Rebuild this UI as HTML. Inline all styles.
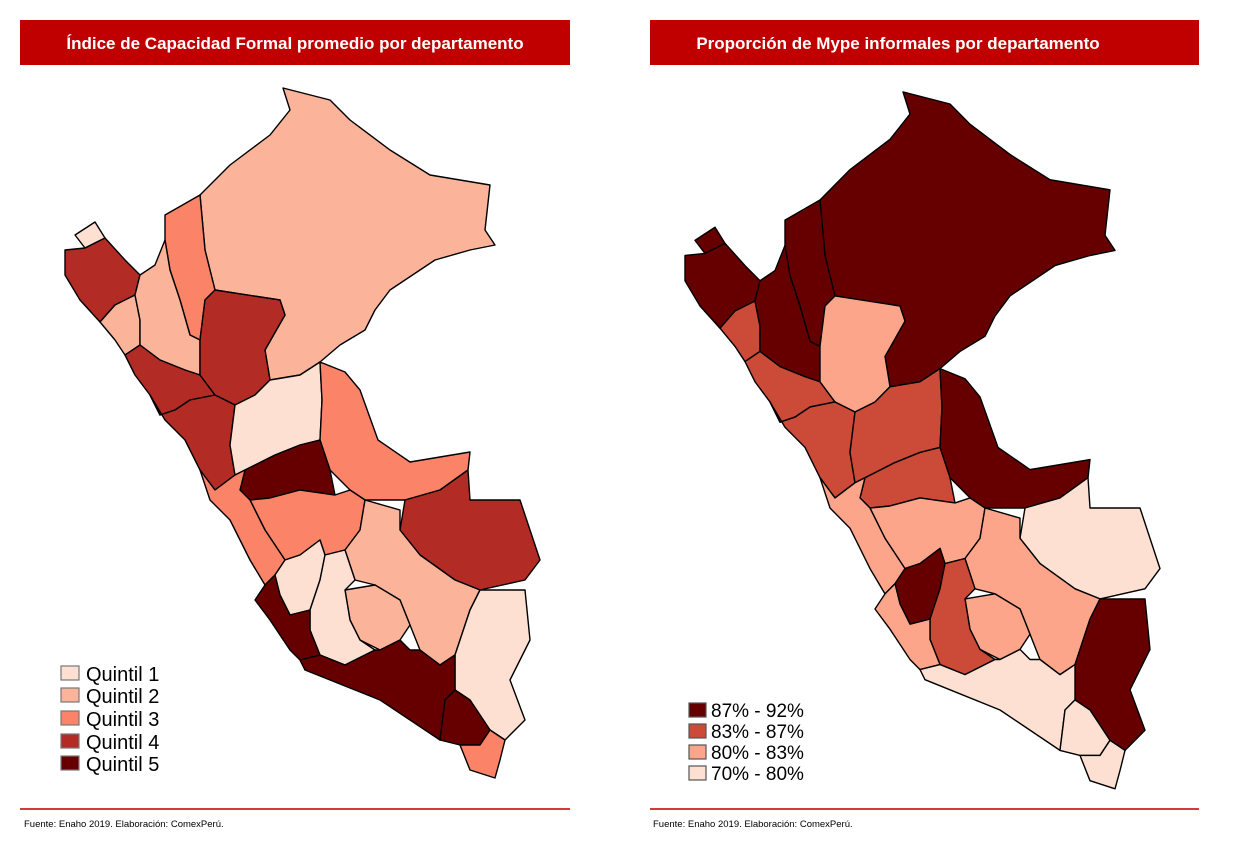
<!DOCTYPE html>
<html><head><meta charset="utf-8"><style>
html,body{margin:0;padding:0;background:#fff;width:1235px;height:844px;overflow:hidden;font-family:"Liberation Sans",Arial,sans-serif}
svg{position:absolute;left:0;top:0}
</style></head><body>
<svg width="1235" height="844" viewBox="0 0 1235 844" xmlns="http://www.w3.org/2000/svg">
<defs>
<g id="peru" stroke="#000" stroke-width="1.4" stroke-linejoin="round">
<polygon id="loreto" points="283,88 330,100 350,120 390,150 430,175 490,185 485,230 495,245 470,250 435,260 390,290 375,310 365,330 340,345 320,362 300,375 270,380 265,350 285,315 280,300 215,290 205,250 200,195 230,165 270,135 290,110"/>
</g>
</defs>

<rect x="20" y="20" width="550" height="45" fill="#c00000"/>
<text x="295" y="49" fill="#fff" font-size="17" font-weight="bold" text-anchor="middle">Índice de Capacidad Formal promedio por departamento</text>
<rect x="650" y="20" width="549" height="45" fill="#c00000"/>
<text x="898" y="49" fill="#fff" font-size="17" font-weight="bold" text-anchor="middle">Proporción de Mype informales por departamento</text>

<!-- LEFT MAP -->
<g stroke="#000" stroke-width="1.4" stroke-linejoin="round">
<polygon fill="#fbb49a" points="283,88 330,100 350,120 390,150 430,175 490,185 485,230 495,245 470,250 435,260 390,290 375,310 365,330 340,345 320,362 300,375 270,380 265,350 285,315 280,300 215,290 205,250 200,195 230,165 270,135 290,110"/>
<polygon fill="#fb8367" points="165,215 200,195 205,250 215,290 205,300 200,340 190,335 180,300 170,270 165,240"/>
<polygon fill="#fde0d2" points="75,235 95,222 105,238 85,248"/>
<polygon fill="#b22c25" points="65,250 85,248 105,238 125,260 140,275 135,295 115,305 100,322 80,300 65,275"/>
<polygon fill="#fbb49a" points="100,322 115,305 135,295 140,320 140,345 125,355 115,340"/>
<polygon fill="#fbb49a" points="135,295 140,275 155,265 165,240 170,270 180,300 190,335 200,340 200,375 185,370 160,360 140,345 140,320"/>
<polygon fill="#b22c25" points="125,355 140,345 160,360 185,370 200,375 215,395 190,400 175,410 160,415 150,395 135,375"/>
<polygon fill="#b22c25" points="200,340 205,300 215,290 280,300 285,315 265,350 270,380 255,395 235,405 215,395 200,375"/>
<polygon fill="#b22c25" points="150,395 160,415 175,410 190,400 215,395 235,405 230,445 235,475 215,490 200,470 185,440 165,420"/>
<polygon fill="#fde0d2" points="235,405 255,395 270,380 300,375 320,362 322,400 320,440 300,445 275,455 245,470 235,475 230,445"/>
<polygon fill="#fb8367" points="320,362 345,372 360,390 378,440 410,462 470,452 468,470 440,490 405,500 365,500 350,490 330,470 320,440 322,400"/>
<polygon fill="#660000" points="245,470 275,455 300,445 320,440 330,470 335,495 300,490 270,498 250,500 240,490"/>
<polygon fill="#fb8367" points="250,500 270,498 300,490 335,495 350,490 365,500 360,530 345,550 325,555 320,540 300,555 285,560 265,530"/>
<polygon fill="#fb8367" points="200,470 215,490 235,475 245,470 240,490 250,500 265,530 285,560 275,575 265,585 250,560 230,520 210,500"/>
<polygon fill="#b22c25" points="405,500 440,490 468,470 470,500 520,500 540,560 525,580 480,590 455,580 420,555 400,530"/>
<polygon fill="#fbb49a" points="365,500 400,510 400,530 420,555 455,580 480,590 470,610 455,655 440,665 420,650 410,625 400,600 375,585 355,580 345,550 360,530"/>
<polygon fill="#fbb49a" points="345,590 375,585 400,600 410,625 400,640 380,650 360,640 350,620"/>
<polygon fill="#fde0d2" points="285,560 300,555 320,540 325,555 320,580 310,610 290,615 280,595 275,575"/>
<polygon fill="#fde0d2" points="325,555 345,550 355,580 345,590 350,620 360,640 375,650 345,665 320,655 310,630 310,610 320,580"/>
<polygon fill="#fde0d2" points="480,590 525,590 530,640 510,680 525,720 505,740 490,730 470,700 455,690 455,655 470,610"/>
<polygon fill="#660000" points="265,585 275,575 280,595 290,615 310,610 310,630 320,655 300,660 290,650 270,620 255,600"/>
<polygon fill="#660000" points="300,660 320,655 345,665 375,650 380,650 400,640 410,650 420,650 440,665 455,655 455,690 445,700 440,740 380,700 330,680 305,670"/>
<polygon fill="#660000" points="455,690 470,700 490,730 480,745 460,745 440,740 445,700"/>
<polygon fill="#fb8367" points="460,745 480,745 490,730 505,740 500,760 495,778 470,770"/>
</g>

<!-- RIGHT MAP -->
<g transform="translate(620,3) scale(1,1.01)" stroke="#000" stroke-width="1.4" stroke-linejoin="round">
<polygon fill="#660000" points="283,88 330,100 350,120 390,150 430,175 490,185 485,230 495,245 470,250 435,260 390,290 375,310 365,330 340,345 320,362 300,375 270,380 265,350 285,315 280,300 215,290 205,250 200,195 230,165 270,135 290,110"/>
<polygon fill="#660000" points="165,215 200,195 205,250 215,290 205,300 200,340 190,335 180,300 170,270 165,240"/>
<polygon fill="#660000" points="75,235 95,222 105,238 85,248"/>
<polygon fill="#660000" points="65,250 85,248 105,238 125,260 140,275 135,295 115,305 100,322 80,300 65,275"/>
<polygon fill="#cb4a38" points="100,322 115,305 135,295 140,320 140,345 125,355 115,340"/>
<polygon fill="#660000" points="135,295 140,275 155,265 165,240 170,270 180,300 190,335 200,340 200,375 185,370 160,360 140,345 140,320"/>
<polygon fill="#cb4a38" points="125,355 140,345 160,360 185,370 200,375 215,395 190,400 175,410 160,415 150,395 135,375"/>
<polygon fill="#fca58a" points="200,340 205,300 215,290 280,300 285,315 265,350 270,380 255,395 235,405 215,395 200,375"/>
<polygon fill="#cb4a38" points="150,395 160,415 175,410 190,400 215,395 235,405 230,445 235,475 215,490 200,470 185,440 165,420"/>
<polygon fill="#cb4a38" points="235,405 255,395 270,380 300,375 320,362 322,400 320,440 300,445 275,455 245,470 235,475 230,445"/>
<polygon fill="#660000" points="320,362 345,372 360,390 378,440 410,462 470,452 468,470 440,490 405,500 365,500 350,490 330,470 320,440 322,400"/>
<polygon fill="#cb4a38" points="245,470 275,455 300,445 320,440 330,470 335,495 300,490 270,498 250,500 240,490"/>
<polygon fill="#fca58a" points="250,500 270,498 300,490 335,495 350,490 365,500 360,530 345,550 325,555 320,540 300,555 285,560 265,530"/>
<polygon fill="#fca58a" points="200,470 215,490 235,475 245,470 240,490 250,500 265,530 285,560 275,575 265,585 250,560 230,520 210,500"/>
<polygon fill="#fde0d2" points="405,500 440,490 468,470 470,500 520,500 540,560 525,580 480,590 455,580 420,555 400,530"/>
<polygon fill="#fca58a" points="365,500 400,510 400,530 420,555 455,580 480,590 470,610 455,655 440,665 420,650 410,625 400,600 375,585 355,580 345,550 360,530"/>
<polygon fill="#fca58a" points="345,590 375,585 400,600 410,625 400,640 380,650 360,640 350,620"/>
<polygon fill="#660000" points="285,560 300,555 320,540 325,555 320,580 310,610 290,615 280,595 275,575"/>
<polygon fill="#cb4a38" points="325,555 345,550 355,580 345,590 350,620 360,640 375,650 345,665 320,655 310,630 310,610 320,580"/>
<polygon fill="#660000" points="480,590 525,590 530,640 510,680 525,720 505,740 490,730 470,700 455,690 455,655 470,610"/>
<polygon fill="#fca58a" points="265,585 275,575 280,595 290,615 310,610 310,630 320,655 300,660 290,650 270,620 255,600"/>
<polygon fill="#fde0d2" points="300,660 320,655 345,665 375,650 380,650 400,640 410,650 420,650 440,665 455,655 455,690 445,700 440,740 380,700 330,680 305,670"/>
<polygon fill="#fde0d2" points="455,690 470,700 490,730 480,745 460,745 440,740 445,700"/>
<polygon fill="#fde0d2" points="460,745 480,745 490,730 505,740 500,760 495,778 470,770"/>
</g>

<!-- Left legend -->
<g stroke="#777" stroke-width="1.2" font-size="20">
<rect x="61" y="666" width="18" height="14" fill="#fde0d2"/>
<rect x="61" y="688" width="18" height="14" fill="#fbb49a"/>
<rect x="61" y="711" width="18" height="14" fill="#fb8367"/>
<rect x="61" y="734" width="18" height="14" fill="#b22c25"/>
<rect x="61" y="756" width="18" height="14" fill="#660000"/>
</g>
<g font-size="20" fill="#000">
<text x="86" y="681">Quintil 1</text>
<text x="86" y="703">Quintil 2</text>
<text x="86" y="726">Quintil 3</text>
<text x="86" y="749">Quintil 4</text>
<text x="86" y="771">Quintil 5</text>
</g>

<!-- Right legend -->
<g stroke="#555" stroke-width="1.2">
<rect x="689" y="703" width="17" height="14" fill="#660000"/>
<rect x="689" y="724" width="17" height="14" fill="#cb4a38"/>
<rect x="689" y="745" width="17" height="14" fill="#fca58a"/>
<rect x="689" y="766" width="17" height="14" fill="#fde0d2"/>
</g>
<g font-size="19" fill="#000">
<text x="711" y="717">87% - 92%</text>
<text x="711" y="738">83% - 87%</text>
<text x="711" y="759">80% - 83%</text>
<text x="711" y="780">70% - 80%</text>
</g>

<rect x="20" y="808" width="550" height="2" fill="#d43a3a"/>
<rect x="650" y="808" width="549" height="2" fill="#d43a3a"/>
<text x="24" y="827" font-size="9.5" fill="#000">Fuente: Enaho 2019. Elaboración: ComexPerú.</text>
<text x="653" y="827" font-size="9.5" fill="#000">Fuente: Enaho 2019. Elaboración: ComexPerú.</text>
</svg>
</body></html>
